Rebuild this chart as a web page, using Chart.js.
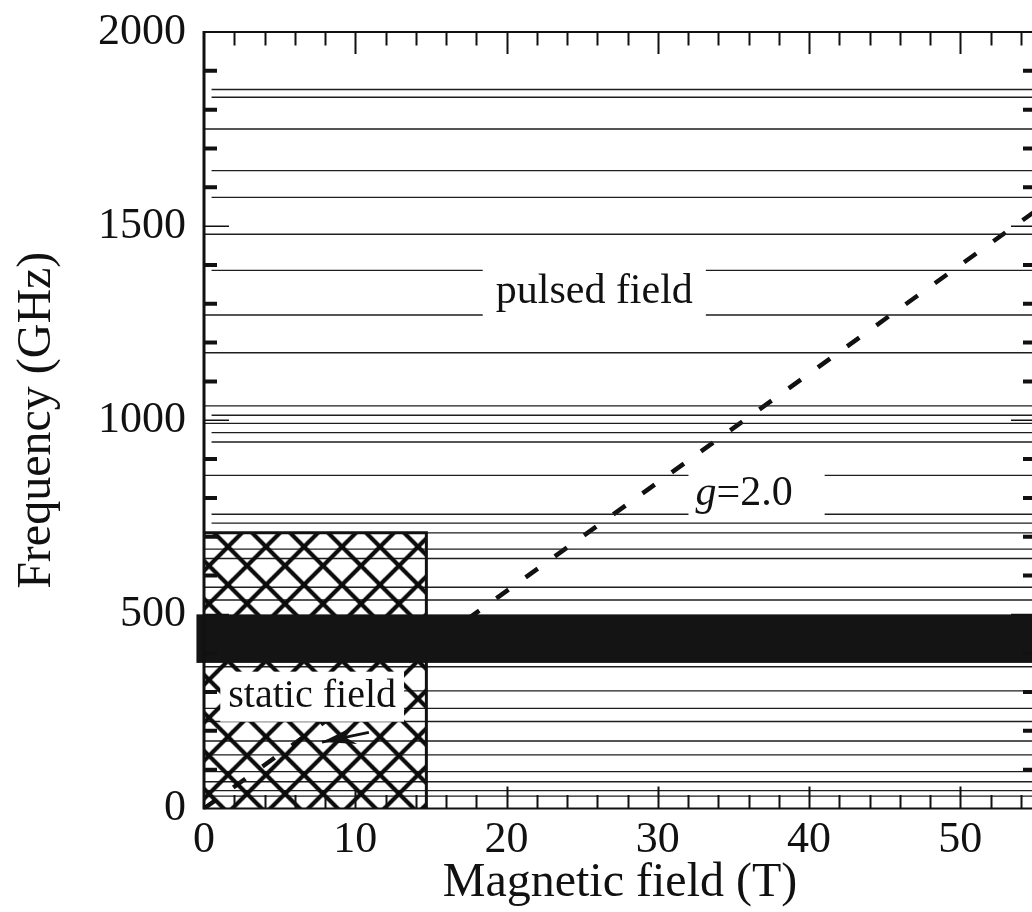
<!DOCTYPE html>
<html>
<head>
<meta charset="utf-8">
<script src="https://cdn.jsdelivr.net/npm/chart.js@4.4.1/dist/chart.umd.min.js"></script>
<style>
  html, body { margin: 0; padding: 0; background: #fff; overflow: hidden; }
  #wrap { width: 1040px; height: 912px; }
</style>
</head>
<body>
<div id="wrap"><canvas id="c" width="1040" height="912"></canvas></div>
<script>
// Available source lines (GHz) and the field (T) where each drawn line starts
const laserFreqs = [1852, 1832, 1750, 1643, 1574, 1479, 1386, 1271, 1174, 1037, 1013, 992, 968, 944,
                    858, 758, 735, 710, 668, 644, 570, 537, 365, 303, 258, 224, 174, 138, 95, 69, 46, 32];
const laserFrom  = [0.5, 0.5, 0, 0.5, 0.5, 0, 0.5, 0, 0, 0, 0.5, 0, 0.5, 0.5,
                    0, 0.5, 0.5, 0, 0, 0, 0, 0, 0, 0, 0, 0, 0, 0, 0, 0, 0, 0];
const fieldMax = 55;

// g = 2.0 resonance line
const gLineField = [0, 55];
const gLineFreq  = [0, 1540];

// static-field magnet region
const staticField = [0, 14.7];
const staticFreq  = [0, 710];

// continuous-source band
const bandField = [-0.5, 55];
const bandFreq  = [375, 500];

// arrow inside the static-field region (tail, tip)
const arrowField = [10.9, 7.8];
const arrowFreq  = [196, 171];

// tick labels
const xTickLabels = [0, 10, 20, 30, 40, 50];
const yTickLabels = [0, 500, 1000, 1500, 2000];
const xMinorStep = 2;
const yMinorStep = 100;

const SERIF = "'Liberation Serif', 'Times New Roman', 'DejaVu Serif', serif";
const INK = '#111';

// text labels with white backing boxes
const textLabels = [
  { parts: [{ t: 'pulsed field' }], x: 25.8, y: 1330, size: 42, padL: 13, padR: 13, padY: 25 },
  { parts: [{ t: 'g', italic: true }, { t: '=2.0' }], x: 35.7, y: 809, size: 42, padL: 7, padR: 32, padY: 22 },
  { parts: [{ t: 'static field' }], x: 7.15, y: 288, size: 40, padL: 8, padR: 8, padY: 25 }
];

// line segments for the source lines, separated by gaps
const laserSegments = [];
laserFreqs.forEach((f, i) => {
  laserSegments.push({ x: laserFrom[i], y: f });
  laserSegments.push({ x: fieldMax, y: f });
  laserSegments.push({ x: fieldMax, y: null });
});
const gLine = gLineField.map((b, i) => ({ x: b, y: gLineFreq[i] }));

// cross-hatch pattern for the static-field region
function makeHatch() {
  const s = 38;
  const tile = document.createElement('canvas');
  tile.width = s; tile.height = s;
  const t = tile.getContext('2d');
  t.strokeStyle = '#0c0c0c';
  t.lineWidth = 4.2;
  t.lineCap = 'square';
  for (const dx of [-s, 0, s]) {
    t.beginPath();
    t.moveTo(dx - 4, -4); t.lineTo(dx + s + 4, s + 4);
    t.moveTo(dx + s + 4, -4); t.lineTo(dx - 4, s + 4);
    t.stroke();
  }
  const p = document.getElementById('c').getContext('2d').createPattern(tile, 'repeat');
  p.setTransform(new DOMMatrix().translate(0, 14.7));
  return p;
}
const hatchPattern = makeHatch();

const marks = {
  id: 'marks',
  afterDatasetsDraw(chart) {
    const { ctx, chartArea: a, scales: { x, y } } = chart;
    ctx.save();

    // static-field region
    const hx0 = x.getPixelForValue(staticField[0]), hx1 = x.getPixelForValue(staticField[1]);
    const hy0 = y.getPixelForValue(staticFreq[0]), hy1 = y.getPixelForValue(staticFreq[1]);
    ctx.fillStyle = hatchPattern;
    ctx.fillRect(hx0, hy1, hx1 - hx0, hy0 - hy1);
    ctx.strokeStyle = INK;
    ctx.lineWidth = 3;
    ctx.beginPath();
    ctx.moveTo(hx0, hy1); ctx.lineTo(hx1, hy1); ctx.lineTo(hx1, hy0);
    ctx.stroke();

    // band
    const bx0 = x.getPixelForValue(bandField[0]), bx1 = x.getPixelForValue(bandField[1]);
    const by0 = y.getPixelForValue(bandFreq[0]), by1 = y.getPixelForValue(bandFreq[1]);
    ctx.fillStyle = '#141414';
    ctx.fillRect(bx0, by1, bx1 - bx0, by0 - by1);

    // frame
    ctx.strokeStyle = INK;
    ctx.lineWidth = 2;
    ctx.beginPath();
    ctx.moveTo(a.left, a.top); ctx.lineTo(a.right, a.top);
    ctx.moveTo(a.left, a.bottom); ctx.lineTo(a.right, a.bottom);
    ctx.moveTo(a.right, a.top); ctx.lineTo(a.right, a.bottom);
    ctx.stroke();
    ctx.lineWidth = 3;
    ctx.beginPath();
    ctx.moveTo(a.left, a.top - 1); ctx.lineTo(a.left, a.bottom + 1);
    ctx.stroke();

    // field ticks (top and bottom, pointing inward)
    ctx.lineWidth = 2;
    ctx.beginPath();
    for (let v = xMinorStep; v < fieldMax; v += xMinorStep) {
      const px = Math.round(x.getPixelForValue(v)) + 0.5;
      const len = (v % 10 === 0) ? 22 : 13.5;
      ctx.moveTo(px, a.top); ctx.lineTo(px, a.top + len);
      ctx.moveTo(px, a.bottom); ctx.lineTo(px, a.bottom - len);
    }
    ctx.stroke();

    // frequency ticks (left and right, pointing inward)
    for (let v = yMinorStep; v < 2000; v += yMinorStep) {
      const py = y.getPixelForValue(v);
      const major = v % 500 === 0;
      ctx.lineWidth = major ? 1.5 : 4;
      const len = major ? 25 : 13;
      ctx.beginPath();
      ctx.moveTo(a.left, py); ctx.lineTo(a.left + len, py);
      ctx.moveTo(a.right, py); ctx.lineTo(a.right - len, py);
      ctx.stroke();
    }

    // arrow
    const tx = x.getPixelForValue(arrowField[0]), ty = y.getPixelForValue(arrowFreq[0]);
    const hx = x.getPixelForValue(arrowField[1]), hy = y.getPixelForValue(arrowFreq[1]);
    const ang = Math.atan2(hy - ty, hx - tx);
    ctx.lineWidth = 3;
    ctx.beginPath(); ctx.moveTo(tx, ty); ctx.lineTo(hx, hy); ctx.stroke();
    const hl = 34, hw = 9;
    ctx.fillStyle = INK;
    ctx.beginPath();
    ctx.moveTo(hx, hy);
    ctx.lineTo(hx - hl * Math.cos(ang) + hw * Math.sin(ang), hy - hl * Math.sin(ang) - hw * Math.cos(ang));
    ctx.lineTo(hx - hl * 0.7 * Math.cos(ang), hy - hl * 0.7 * Math.sin(ang));
    ctx.lineTo(hx - hl * Math.cos(ang) - hw * Math.sin(ang), hy - hl * Math.sin(ang) + hw * Math.cos(ang));
    ctx.closePath();
    ctx.fill();

    // labels with white boxes
    for (const L of textLabels) {
      const cx = x.getPixelForValue(L.x), cy = y.getPixelForValue(L.y);
      let w = 0;
      const widths = L.parts.map(p => {
        ctx.font = (p.italic ? 'italic ' : '') + L.size + 'px ' + SERIF;
        const m = ctx.measureText(p.t).width;
        w += m;
        return m;
      });
      const left = cx - w / 2;
      ctx.fillStyle = '#fff';
      ctx.fillRect(left - L.padL, cy - L.padY, w + L.padL + L.padR, 2 * L.padY);
      ctx.fillStyle = INK;
      ctx.textBaseline = 'middle';
      ctx.textAlign = 'left';
      let px = left;
      L.parts.forEach((p, i) => {
        ctx.font = (p.italic ? 'italic ' : '') + L.size + 'px ' + SERIF;
        ctx.fillText(p.t, px, cy);
        px += widths[i];
      });
    }
    ctx.restore();
  }
};

new Chart(document.getElementById('c'), {
  type: 'line',
  data: {
    datasets: [
      { data: laserSegments, borderColor: '#1e1e1e', borderWidth: 1.4, pointRadius: 0, spanGaps: false, tension: 0 },
      { data: gLine, borderColor: INK, borderWidth: 4.5, borderDash: [15, 21], pointRadius: 0, tension: 0 }
    ]
  },
  options: {
    responsive: false,
    animation: false,
    devicePixelRatio: 1,
    layout: { padding: { top: 32, right: 4, left: 0, bottom: 0 } },
    plugins: { legend: { display: false }, tooltip: { enabled: false } },
    scales: {
      x: {
        type: 'linear', min: 0, max: fieldMax, position: 'bottom',
        afterFit(s) { s.height = 912 - 808.5; },
        afterBuildTicks(s) { s.ticks = xTickLabels.map(v => ({ value: v })); },
        ticks: { font: { family: SERIF, size: 44 }, color: INK, padding: 6, maxRotation: 0, autoSkip: false,
                 callback: v => String(v) },
        grid: { display: false, drawTicks: false },
        border: { display: false },
        title: { display: true, text: 'Magnetic field (T)', font: { family: SERIF, size: 48 }, color: INK, padding: { top: 0, bottom: 0 } }
      },
      y: {
        type: 'linear', min: 0, max: 2000,
        afterFit(s) { s.width = 204; },
        afterBuildTicks(s) { s.ticks = yTickLabels.map(v => ({ value: v })); },
        ticks: { font: { family: SERIF, size: 44, lineHeight: 0.6 }, color: INK, padding: 18, autoSkip: false,
                 callback: v => String(v) },
        grid: { display: false, drawTicks: false },
        border: { display: false },
        title: { display: true, text: 'Frequency (GHz)', font: { family: SERIF, size: 48 }, color: INK, padding: { top: 9, bottom: 0 } }
      }
    }
  },
  plugins: [marks]
});
</script>
</body>
</html>
